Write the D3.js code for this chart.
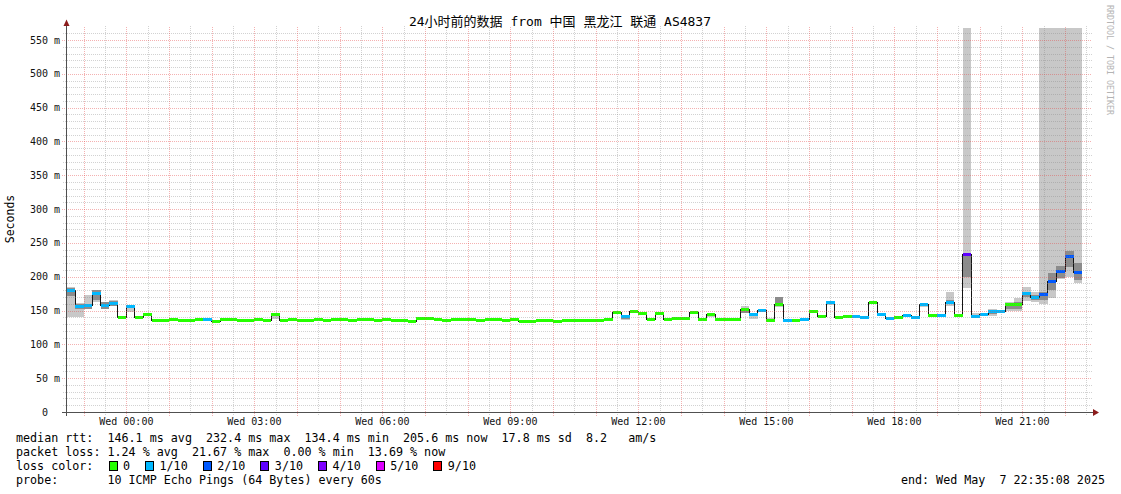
<!DOCTYPE html>
<html><head><meta charset="utf-8">
<script src="https://cdn.jsdelivr.net/npm/d3@7"></script>
<style>
html,body{margin:0;padding:0;background:#fff;}
svg text{font-family:"DejaVu Sans Mono","Noto Sans CJK SC",monospace;white-space:pre;}
</style></head>
<body><svg id="c" width="1121" height="494"></svg>
<script>
// ---------------- data ----------------
const titleText = "24小时前的数据 from 中国 黑龙江 联通 AS4837";
const startTime = new Date(2025, 4, 6, 22, 35, 8);
const endTime   = new Date(2025, 4, 7, 22, 35, 8);
const firstBin  = new Date(2025, 4, 6, 22, 36, 0);
const binMinutes = 12;

// median rtt per 12-minute bin (ms)
const median = [
  180, 156.5, 157, 175, 157, 160, 139, 155.5, 139.5, 144,
  135.5, 135.5, 137.4, 135, 135, 137, 136.5, 134, 137.5, 137.5,
  135.5, 135.5, 137, 135, 143.5, 136, 137, 135.5, 135.5, 137,
  135, 137, 137, 135, 137.5, 137.5, 135.5, 137.5, 136, 135.5,
  134.5, 138.7, 138.7, 137.5, 135, 137.5, 137.5, 137.5, 135.5, 137.5,
  137.5, 136, 137.5, 134, 134, 135, 135, 134, 135.5, 135,
  135.5, 135.5, 135.5, 137.5, 146.6, 141.7, 149.1, 145.1, 136.6, 145.3,
  137.5, 138.7, 138.7, 147.6, 137.4, 143.9, 137.5, 136.6, 137.5, 151.5,
  144.8, 150.3, 135.9, 158.4, 135, 135.5, 136.6, 148.6, 141.7, 161.2,
  139, 140.5, 141.7, 139.7, 161.4, 143.6, 138.2, 139.7, 142, 140,
  159.2, 142.2, 143.4, 162.5, 142.2, 232.4, 141.4, 143.9, 148.8, 148.8,
  158.6, 158.6, 175.6, 169.9, 173.6, 193.2, 208.4, 229.6, 205.6
];
// loss colour index per bin (index into lossLabels / lossColors)
const lossLevel = [
  1,1,1,1,1,1,0,1,0,0,
  0,0,0,0,0,0,1,0,0,0,
  0,0,0,0,0,0,0,0,0,0,
  0,0,0,0,0,0,0,0,0,0,
  0,0,0,0,0,0,0,0,0,0,
  0,0,0,0,0,0,0,0,0,0,
  0,0,0,0,0,1,0,0,0,0,
  0,0,0,0,0,0,0,0,0,0,
  1,1,0,0,1,0,1,0,0,1,
  0,0,1,1,0,1,1,0,1,1,
  1,0,1,1,0,3,1,1,1,1,
  0,0,1,1,2,2,2,2,2
];
// outer smoke [bin, low, high]  (high null = lost pings, drawn to top)
const smokeOuter = [
  [0,141,185],[1,141,161],[2,152,173],[3,163,180],[4,152,163],[5,156,165],[7,148,157],
  [24,138,144],[33,135,137.5],[48,135.5,138],[65,136,143],[75,141,145],[79,146,156.5],
  [80,137,146],[82,135,138.5],[83,155,170],[88,141,144],[89,158,163],[92,141,144],
  [94,160,163],[96,138,140],[100,155,161],[102,142,145],[103,157,178],[105,184,null],
  [106,140,146],[107,142,147],[108,142,152],[109,146,151],[110,150,162],[111,149,169],
  [112,164,185],[113,163,177],[114,160,null],[115,168,null],[116,196,null],[117,200,null],[118,190,null]
];
// inner (darker) smoke [bin, low, high]
const smokeInner = [
  [0,171,184],[1,153,160],[2,153,160],[3,166,180],[4,153,162],[5,157,164],[65,138,141],
  [79,146,150],[83,160,170],[94,160,163],[103,159,166],[105,200,233],[108,145,151],
  [110,152,159],[111,152,162],[112,170,178],[113,166,173],[114,165,178],[115,180,205],
  [116,198,216],[117,215,238],[118,195,220]
];

const yTickValues = [0,50,100,150,200,250,300,350,400,450,500,550];
const yTickLabels = ["0  ","50 m","100 m","150 m","200 m","250 m","300 m","350 m","400 m","450 m","500 m","550 m"];
const xTickHours  = [0,3,6,9,12,15,18,21];
const xTickLabels = ["Wed 00:00","Wed 03:00","Wed 06:00","Wed 09:00","Wed 12:00","Wed 15:00","Wed 18:00","Wed 21:00"];

const lossLabels = ["0","1/10","2/10","3/10","4/10","5/10","9/10"];
const lossColors = ["#26ff00","#00b8ff","#0059ff","#5e00ff","#7e00ff","#dd00ff","#ff0000"];

const statsRtt  = "median rtt:  146.1 ms avg  232.4 ms max  134.4 ms min  205.6 ms now  17.8 ms sd  8.2   am/s";
const statsLoss = "packet loss: 1.24 % avg  21.67 % max  0.00 % min  13.69 % now";
const lossColorLabel = "loss color:";
const probeText = "probe:       10 ICMP Echo Pings (64 Bytes) every 60s";
const endText = "end: Wed May  7 22:35:08 2025";
const yAxisTitle = "Seconds";
const watermark = "RRDTOOL / TOBI OETIKER";

// ---------------- drawing ----------------
const svg = d3.select("#c");
const x = d3.scaleTime().domain([startTime, endTime]).range([66, 1090]);
const y = d3.scaleLinear().domain([0, 550]).range([412, 40]);
const plotTop = 26, plotRight = 1092, infTop = 28;

const binStart = i => new Date(firstBin.getTime() + i * binMinutes * 60000);
const binEnd   = i => new Date(firstBin.getTime() + (i + 1) * binMinutes * 60000);

// smoke
const gSmoke = svg.append("g").attr("shape-rendering", "crispEdges");
gSmoke.selectAll("rect.o").data(smokeOuter).join("rect").attr("class","o")
  .attr("x", d => x(binStart(d[0])))
  .attr("width", d => x(binEnd(d[0])) - x(binStart(d[0])))
  .attr("y", d => d[2] === null ? infTop : y(d[2]))
  .attr("height", d => y(d[1]) - (d[2] === null ? infTop : y(d[2])))
  .attr("fill", "#c8c8c8");
gSmoke.selectAll("rect.i").data(smokeInner).join("rect").attr("class","i")
  .attr("x", d => x(binStart(d[0])))
  .attr("width", d => x(binEnd(d[0])) - x(binStart(d[0])))
  .attr("y", d => y(d[2]))
  .attr("height", d => y(d[1]) - y(d[2]))
  .attr("fill", "#8c8c8c");

// median line
const pts = median.map((m, i) => [x(binStart(i)), y(m)]);
pts.push([x(binEnd(median.length - 1)), y(median[median.length - 1])]);
svg.append("path").attr("d", d3.line().curve(d3.curveStepAfter)(pts))
  .attr("fill", "none").attr("stroke", "#141414").attr("stroke-width", 1)
  .attr("shape-rendering", "crispEdges");

// loss-coloured median bands
svg.append("g").attr("shape-rendering", "crispEdges")
  .selectAll("rect").data(median).join("rect")
  .attr("x", (m, i) => x(binStart(i)))
  .attr("width", (m, i) => x(binEnd(i)) - x(binStart(i)))
  .attr("y", m => y(m) - 1.5).attr("height", 3)
  .attr("fill", (m, i) => lossColors[lossLevel[i]]);

// grid
const gGrid = svg.append("g").attr("shape-rendering", "crispEdges");
const minorC = "rgba(130,130,130,0.36)", majorC = "rgba(228,70,70,0.42)";
const px = v => Math.round(v) + 0.5;
const halfHours = d3.timeMinute.every(30).range(startTime, endTime).filter(d => d.getMinutes() === 30);
const hours = d3.timeHour.range(startTime, endTime);
const yMinor = d3.range(10, 570, 10).filter(v => v % 50 !== 0 && y(v) > plotTop);
const yMajor = yTickValues.filter(v => v > 0);
gGrid.selectAll("line.hm").data(yMinor).join("line")
  .attr("x1", 63).attr("x2", plotRight).attr("y1", d => px(y(d))).attr("y2", d => px(y(d)))
  .attr("stroke", minorC).attr("stroke-dasharray", "1,1");
gGrid.selectAll("line.vm").data(halfHours).join("line")
  .attr("x1", d => px(x(d))).attr("x2", d => px(x(d))).attr("y1", 415).attr("y2", plotTop)
  .attr("stroke", minorC).attr("stroke-dasharray", "1,1");
gGrid.selectAll("line.hM").data(yMajor).join("line")
  .attr("x1", 62).attr("x2", plotRight).attr("y1", d => px(y(d))).attr("y2", d => px(y(d)))
  .attr("stroke", majorC).attr("stroke-dasharray", "1,1");
gGrid.selectAll("line.vM").data(hours).join("line")
  .attr("x1", d => px(x(d))).attr("x2", d => px(x(d))).attr("y1", 416).attr("y2", plotTop)
  .attr("stroke", majorC).attr("stroke-dasharray", "1,1");

// axes
const gAx = svg.append("g").attr("shape-rendering", "crispEdges");
gAx.append("line").attr("x1", 66.5).attr("x2", 66.5).attr("y1", 416).attr("y2", 24).attr("stroke", "#505050");
gAx.append("line").attr("x1", 62).attr("x2", 1094).attr("y1", 412.5).attr("y2", 412.5).attr("stroke", "#505050");
svg.append("path").attr("d", "M63.5,26L69.5,26L66.5,19.5Z").attr("fill", "#8b1c1c");
svg.append("path").attr("d", "M1093,409L1093,416L1099,412.5Z").attr("fill", "#8b1c1c");

// y labels
svg.append("g").selectAll("text").data(yTickValues).join("text")
  .attr("x", 60).attr("y", d => y(d) + 3.5).attr("text-anchor", "end")
  .attr("font-size", "10px").attr("fill", "#111")
  .text((d, i) => yTickLabels[i]);
// x labels
svg.append("g").selectAll("text").data(xTickHours).join("text")
  .attr("x", h => x(new Date(2025, 4, 7, h, 0, 0)))
  .attr("y", 425).attr("text-anchor", "middle").attr("font-size", "10px").attr("fill", "#111")
  .text((h, i) => xTickLabels[i]);

// title
svg.append("text").attr("x", 560).attr("y", 26).attr("text-anchor", "middle")
  .attr("font-size", "13px").attr("fill", "#000").text(titleText);
// y axis title
svg.append("text").attr("transform", "translate(14,219) rotate(-90)").attr("text-anchor", "middle")
  .attr("font-size", "11.5px").attr("fill", "#000").text(yAxisTitle);
// watermark
svg.append("text").attr("transform", "translate(1107,5) rotate(90)")
  .attr("font-size", "8.3px").attr("fill", "#b4b4b4").text(watermark);

// legend
const lf = "11.7px";
const leg = svg.append("g").attr("font-size", lf).attr("fill", "#000");
leg.append("text").attr("x", 16).attr("y", 442).text(statsRtt);
leg.append("text").attr("x", 16).attr("y", 456).text(statsLoss);
leg.append("text").attr("x", 16).attr("y", 470).text(lossColorLabel);
leg.append("text").attr("x", 16).attr("y", 484).text(probeText);
leg.append("text").attr("x", 1105).attr("y", 484).attr("text-anchor", "end").text(endText);
const cw = 7.04;
let bx = 108.5;
lossLabels.forEach((lab, i) => {
  leg.append("rect").attr("x", bx + 0.5).attr("y", 461.5).attr("width", 8).attr("height", 9)
    .attr("fill", lossColors[i]).attr("stroke", "#000").attr("stroke-width", 1)
    .attr("shape-rendering", "crispEdges");
  leg.append("text").attr("x", bx + 14.5).attr("y", 470).text(lab);
  bx += 14.5 + lab.length * cw + 15;
});
</script>
</body></html>
